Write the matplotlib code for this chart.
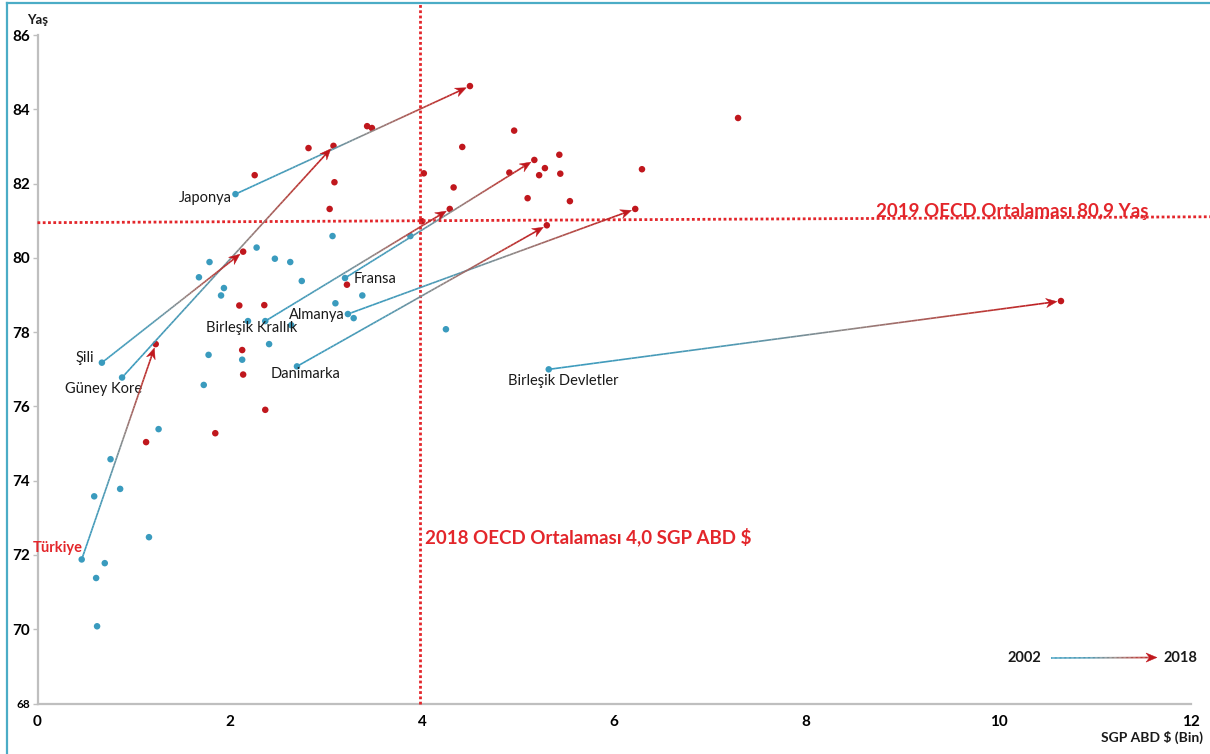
import numpy as np
import matplotlib
matplotlib.use("Agg")
import matplotlib.pyplot as plt
from matplotlib.collections import LineCollection
from matplotlib.patches import Polygon
from matplotlib.colors import LinearSegmentedColormap
from matplotlib.lines import Line2D

# ---------------- data ----------------
countries = ["Türkiye", "Güney Kore", "Şili", "Japonya", "Birleşik Krallık",
             "Fransa", "Almanya", "Danimarka", "Birleşik Devletler"]
spend_2002 = [0.46, 0.88, 0.67, 2.06, 2.37, 3.20, 3.23, 2.70, 5.32]
life_2002 = [71.88, 76.78, 77.18, 81.72, 78.30, 79.46, 78.49, 77.08, 77.00]
spend_2018 = [1.23, 3.08, 2.14, 4.50, 4.29, 5.17, 6.22, 5.30, 10.65]
life_2018 = [77.68, 83.02, 80.17, 84.63, 81.32, 82.64, 81.32, 80.88, 78.84]

other_spend_2002 = [3.07, 3.88, 4.25, 2.28, 2.47, 2.63, 1.79, 1.68, 1.94, 1.91,
                    2.75, 3.38, 3.10, 3.29, 2.19, 2.64, 2.41, 2.13, 1.78, 1.73,
                    1.26, 0.76, 0.59, 0.86, 1.16, 0.70, 0.61, 0.62]
other_life_2002 = [80.59, 80.59, 78.08, 80.28, 79.98, 79.89, 79.89, 79.48, 79.19, 78.99,
                   79.38, 78.99, 78.78, 78.38, 78.30, 78.19, 77.68, 77.26, 77.39, 76.58,
                   75.39, 74.58, 73.58, 73.78, 72.48, 71.78, 71.38, 70.08]
other_spend_2018 = [2.26, 2.82, 3.09, 3.04, 3.43, 3.48, 4.02, 4.42, 4.33, 4.96,
                    4.91, 5.10, 5.22, 5.28, 5.43, 5.44, 5.54, 6.29, 7.29, 2.10,
                    2.36, 2.13, 2.14, 2.37, 1.85, 1.13, 3.22, 4.00]
other_life_2018 = [82.23, 82.96, 82.04, 81.32, 83.55, 83.50, 82.28, 82.99, 81.90, 83.43,
                   82.30, 81.61, 82.23, 82.42, 82.78, 82.27, 81.53, 82.39, 83.77, 78.72,
                   78.73, 77.52, 76.86, 75.91, 75.28, 75.04, 79.28, 80.99]

oecd_spend_avg = 3.98
oecd_life_line = [80.95, 81.11]   # dotted average line (left, right end)

x_ticks = [0, 2, 4, 6, 8, 10, 12]
y_ticks = [68, 70, 72, 74, 76, 78, 80, 82, 84, 86]

# ---------------- style ----------------
FONT = ["Lato", "DejaVu Sans"]
plt.rcParams['font.family'] = FONT
BLUE = "#3a9bbe"
DRED = "#c0171d"
TRED = "#e3262b"
GRAY = "#bfbfbf"
W, H = 1210, 754

label_offsets = {  # pixel offsets from 2002 point, alignment
    "Türkiye": (1, 11, "right"),
    "Güney Kore": (-19, -11, "center"),
    "Şili": (-8, 5, "right"),
    "Japonya": (-4, -4, "right"),
    "Birleşik Krallık": (-14, -7, "center"),
    "Fransa": (9, -1, "left"),
    "Almanya": (-3, -1, "right"),
    "Danimarka": (9, -8, "center"),
    "Birleşik Devletler": (14, -12, "center"),
}

cmap = LinearSegmentedColormap.from_list(
    "grad", [(0.0, BLUE), (0.35, "#4e99b3"), (0.58, "#8e8785"),
             (0.82, "#b9403b"), (1.0, DRED)])

fig = plt.figure(figsize=(W / 100, H / 100), dpi=100)
ax = fig.add_axes([37.5 / W, (H - 703.5) / H, (1190.7 - 37.5) / W, (703.5 - 35.2) / H])
ax.set_xlim(0, 12)
ax.set_ylim(68, 86)

for s in ["top", "right"]:
    ax.spines[s].set_visible(False)
for s in ["left", "bottom"]:
    ax.spines[s].set_color(GRAY)
    ax.spines[s].set_linewidth(1.6)

ax.set_xticks(x_ticks)
ax.set_yticks(y_ticks)
ax.set_xticklabels([str(v) for v in x_ticks], fontsize=11, fontweight="bold")
ax.set_yticklabels([str(v) for v in y_ticks], fontsize=11, fontweight="bold")
ax.get_yticklabels()[0].set_fontsize(8.5)
ax.tick_params(axis="x", length=0, pad=8)
ax.tick_params(axis="y", length=3.5, color=GRAY, width=1, pad=2)

fig.canvas.draw()

def px2f(p):
    return np.array([p[0] / W, p[1] / H])

def grad_arrow(p0, p1, shrink=4.0, lw=1.2, z=3):
    p0 = np.asarray(p0, float); p1 = np.asarray(p1, float)
    d = p1 - p0
    L = np.hypot(*d)
    u = d / L
    n = np.array([-u[1], u[0]])
    tip = p1 - u * shrink
    end = tip - u * 6
    t = np.linspace(0, 1, 80)
    pts = p0[None, :] + (end - p0)[None, :] * t[:, None]
    pts_f = pts / np.array([W, H])
    segs = np.stack([pts_f[:-1], pts_f[1:]], axis=1)
    lc = LineCollection(segs, colors=cmap(t[:-1] * (1 - 6 / L)), linewidths=lw,
                        transform=fig.transFigure, zorder=z, capstyle="butt")
    fig.add_artist(lc)
    hl, hw, notch = 11.0, 4.6, 7.5
    head = [tip, tip - u * hl + n * hw, tip - u * notch, tip - u * hl - n * hw]
    head = [px2f(h) for h in head]
    poly = Polygon(head, closed=True, facecolor=DRED, edgecolor=DRED, lw=0.3,
                   transform=fig.transFigure, zorder=z + 0.1)
    fig.add_artist(poly)

# average lines
p_bot = ax.transData.transform((oecd_spend_avg, 68))
fig.add_artist(Line2D([p_bot[0] / W, p_bot[0] / W], [p_bot[1] / H, (H - 4) / H],
                      transform=fig.transFigure, color=TRED, lw=2.0,
                      linestyle=(0, (1, 0.9)), zorder=2))
pl = ax.transData.transform((0, oecd_life_line[0]))
pr = ax.transData.transform((12.2, oecd_life_line[1]))
fig.add_artist(Line2D([pl[0] / W, pr[0] / W], [pl[1] / H, pr[1] / H],
                      transform=fig.transFigure, color=TRED, lw=2.0,
                      linestyle=(0, (1, 0.9)), zorder=2))

# arrows
for x0, y0, x1, y1 in zip(spend_2002, life_2002, spend_2018, life_2018):
    p0 = ax.transData.transform((x0, y0))
    p1 = ax.transData.transform((x1, y1))
    grad_arrow(p0, p1)

# dots
ax.scatter(other_spend_2002 + spend_2002, other_life_2002 + life_2002, s=22,
           color=BLUE, edgecolors="none", zorder=4, clip_on=False)
ax.scatter(other_spend_2018 + spend_2018, other_life_2018 + life_2018, s=22,
           color=DRED, edgecolors="none", zorder=5, clip_on=False)

# country labels
for c, x0, y0 in zip(countries, spend_2002, life_2002):
    dx, dy, ha = label_offsets[c]
    is_tr = c == "Türkiye"
    ax.annotate(c, (x0, y0), xytext=(dx, dy), textcoords="offset pixels",
                ha=ha, va="center", fontsize=10.5,
                color=TRED if is_tr else "#1a1a1a",
                fontweight="bold" if is_tr else "normal", zorder=6)

# average labels
fig.text(425 / W, (H - 537) / H, "2018 OECD Ortalaması 4,0 SGP ABD $",
         color=TRED, fontsize=13.5, fontweight="bold", ha="left", va="center")
fig.text(876 / W, (H - 211) / H, "2019 OECD Ortalaması 80,9 Yaş",
         color=TRED, fontsize=13.5, fontweight="bold", ha="left", va="center")

# axis titles
fig.text(38 / W, (H - 20) / H, "Yaş", fontsize=9.5, fontweight="bold",
         ha="center", va="center", color="#1a1a1a")
fig.text(1203 / W, (H - 737) / H, "SGP ABD $ (Bin)", fontsize=10, fontweight="bold",
         ha="right", va="center", color="#1a1a1a")

# legend
fig.text(1041 / W, (H - 658) / H, "2002", fontsize=10.5, fontweight="bold",
         ha="right", va="center", color="#1a1a1a")
fig.text(1163 / W, (H - 658) / H, "2018", fontsize=10.5, fontweight="bold",
         ha="left", va="center", color="#1a1a1a")
grad_arrow((1051, H - 658), (1157, H - 657.5), shrink=0)

# figure border (top and left)
fig.add_artist(Line2D([6.5 / W, 6.5 / W], [0, (H - 2.5) / H], transform=fig.transFigure,
                      color="#4bacc6", lw=1.6))
fig.add_artist(Line2D([6.5 / W, 1], [(H - 2.5) / H, (H - 2.5) / H], transform=fig.transFigure,
                      color="#4bacc6", lw=1.6))

fig.savefig("out.png", dpi=100)
